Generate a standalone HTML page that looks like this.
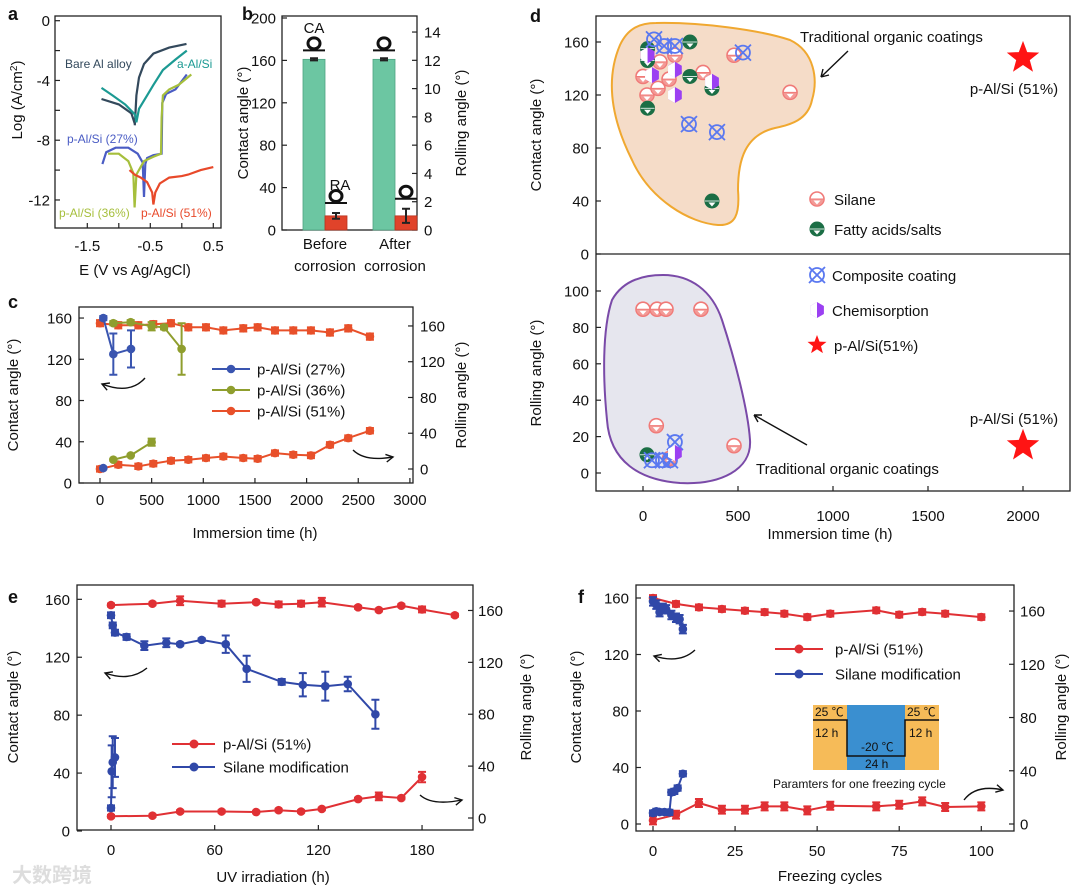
<!DOCTYPE html>
<html><head><meta charset="utf-8">
<style>
html,body{margin:0;padding:0;background:#fff;}
svg{display:block;font-family:"Liberation Sans","Noto Sans CJK SC",sans-serif;}
</style></head>
<body>
<svg id="fig" width="1080" height="893" viewBox="0 0 1080 893"></svg>
<script>
// ---------- DATA ----------
// panel a: polarization curves (E in V, log current)
const aBareE=[-1.275,-1.0,-0.8,-0.746,-0.746,-0.72,-0.68,-0.6,-0.45,-0.2,0.075];
const aBareL=[-5.24,-5.6,-6.2,-6.9,-7.0,-5.0,-3.8,-2.9,-2.2,-1.8,-1.55];
const aAE=[-1.275,-1.1,-0.9,-0.74,-0.72,-0.68,-0.55,-0.45,-0.3,-0.1,0.08];
const aAL=[-4.5,-5.0,-5.6,-6.3,-6.8,-5.9,-5.0,-4.3,-3.3,-2.6,-2.0];
const a27E=[-1.26,-1.2,-1.05,-0.85,-0.7,-0.62,-0.6,-0.58,-0.55,-0.45,-0.32,-0.31,-0.25,-0.1,0.08];
const a27L=[-9.6,-8.8,-8.5,-8.5,-8.9,-9.5,-11.8,-9.6,-9.2,-9.0,-8.9,-5.5,-4.9,-4.6,-3.6];
const a36E=[-1.17,-1.0,-0.85,-0.77,-0.75,-0.72,-0.6,-0.45,-0.33,-0.32,-0.3,-0.2,-0.05,0.15];
const a36L=[-8.9,-8.9,-9.4,-10.2,-12.5,-10.3,-9.4,-9.1,-8.9,-6.5,-5.0,-4.6,-4.3,-3.6];
const a51E=[-0.83,-0.75,-0.65,-0.55,-0.47,-0.45,-0.42,-0.35,-0.2,0.0,0.1,0.3,0.5];
const a51L=[-10.0,-10.3,-10.5,-10.8,-11.5,-12.3,-11.5,-10.9,-10.5,-10.4,-10.3,-10.0,-9.8];
// panel b
const bCats=["Before","After"];
const bCA=[161,161];
const bCAerr=[1,1];
const bRA=[1.0,1.0];
const bRAerr=[0.2,0.5];
// panel c
const c51x=[0,177,371,516,687,855,1026,1194,1387,1526,1694,1871,2042,2226,2403,2613];
const c51CA=[155,153,153,154,155,151,151,148,150,151,148,148,148,146,150,142];
const c51RA=[0,4.8,3,6,9.3,10.4,12.3,14,12.3,11.5,17.8,16,15.2,27,34.6,42.8];
const c27x=[32,129,300];
const c27CA=[160,125,130];
const c27CAerr=[2,20,18];
const c27RAx=[32];
const c27RA=[1];
const c36x=[129,297,500,620,790];
const c36CA=[155,156,152,151,130];
const c36CAerr=[2,2,4,2,25];
const c36RAx=[129,297,500];
const c36RA=[10.4,15.2,30];
// panel d
const dSilX=[0,21,79,89,168,316,479,774,137];
const dSilCA=[134,120,125,145,150,137,150,122,132];
const dFatX=[24,24,24,247,247,363,363];
const dFatCA=[155,146,110,160,134,125,40];
const dCompX=[58,111,168,526,242,389];
const dCompCA=[162,157,157,152,98,92];
const dChemX=[24,47,168,168,363];
const dChemCA=[150,135,139,120,130];
const dSilRAx=[0,74,121,305,70,479,140];
const dSilRA=[90,90,90,90,26,15,8];
const dFatRAx=[21];
const dFatRA=[10];
const dCompRAx=[47,105,142,168];
const dCompRA=[7,7,7,17];
const dChemRAx=[168];
const dChemRA=[11];
const dStarX=[2000];
const dStarCA=[148];
const dStarRA=[15];
// panel e
const eRx=[0,24,40,64,84,97,110,122,143,155,168,180,199];
const eRCA=[156,157,159,157,158,156.5,157,158,154.5,152.6,155.6,153,149];
const eRCAerr=[1,1,3,2,1,2,2,3,1,1,1,2,1];
const eRRAx=[0,24,40,64,84,97,110,122,143,155,168,180];
const eRRA=[1.3,1.8,5,5,4.6,6,5,7,14.6,16.7,15.4,31.6];
const eRRAerr=[1,1,1,1,1,1,1,1,1,3,1,4];
const eBx=[0,1,2.3,9,19.3,32,40,52.5,66.4,78.5,98.8,111,124,137,153];
const eBCA=[149,142,137,134,128,130,129,132,129,112,103,101,100,101.5,80.6];
const eBCAerr=[2,2,2,2,3,3,1,1,6,9,2,8,10,5,10];
const eBRAx=[0,0.4,1,2.3];
const eBRA=[7.7,36,43,46.7];
const eBRAerr=[2,20,20,15];
// panel f
const fRx=[0,7,14,21,28,34,40,47,54,68,75,82,89,100];
const fRCA=[160,155.8,153.4,152.2,151,150,148.9,146.5,148.9,151.3,148.2,150.1,148.9,146.5];
const fRRA=[2.75,7,15.75,10.75,10.75,13.25,13.25,10.25,13.75,13.25,14.5,17,12.75,13.25];
const fBx=[0,1,2,3,4,5.6,7,8.1,9.1];
const fBCA=[157.6,155.3,150,153,152,148,146,145,138];
const fBRAx=[0,1,2,3.5,5,5.6,6.5,7.5,9.1];
const fBRA=[8.25,9.5,9,9,8.75,23.75,24.5,27,37.75];

// ---------- HELPERS ----------
const NS='http://www.w3.org/2000/svg';
const svg=document.getElementById('fig');
function mk(parent,tag,attrs,name){
  const el=document.createElementNS(NS,tag);
  for(const k in attrs) el.setAttribute(k,attrs[k]);
  
  
  parent.appendChild(el);
  return el;
}
function txt(parent,x,y,s,size,anchor,name,extra){
  const a={x:x,y:y,'font-size':size,'text-anchor':anchor||'start',fill:'#111'};
  if(extra) for(const k in extra) a[k]=extra[k];
  const t=mk(parent,'text',a,name);
  t.textContent=s;
  return t;
}
function group(name){return mk(svg,'g',{},name);}
function box(g,x0,x1,y0,y1,name){mk(g,'rect',{x:x0,y:y0,width:x1-x0,height:y1-y0,fill:'none',stroke:'#222','stroke-width':1.3},name);}
function yTicks(g,vals,Y,x,side,labelX,name){
  vals.forEach(v=>{
    const yy=Y(v);
    const d=side==='left'?5:-5;
    mk(g,'line',{x1:x,y1:yy,x2:x+d,y2:yy,stroke:'#222','stroke-width':1.2},name+'-tick');
    txt(g,labelX,yy+5.5,String(v),15,side==='left'?'end':'start',name+'-label');
  });
}
function xTicks(g,vals,X,y,labelY,name,labels){
  vals.forEach((v,i)=>{
    const xx=X(v);
    mk(g,'line',{x1:xx,y1:y,x2:xx,y2:y-5,stroke:'#222','stroke-width':1.2},name+'-tick');
    if(!labels||labels[i]!==null) txt(g,xx,labelY,labels?labels[i]:String(v),15,'middle',name+'-label');
  });
}
function rotTitle(g,x,y,s,name){txt(g,x,y,s,15,'middle',name,{transform:'rotate(-90 '+x+' '+y+')'});}
function line(g,xs,ys,X,Y,color,name,w){
  const pts=xs.map((v,i)=>X(v).toFixed(1)+','+Y(ys[i]).toFixed(1)).join(' ');
  mk(g,'polyline',{points:pts,fill:'none',stroke:color,'stroke-width':w||2},name);
}
function errs(g,xs,ys,es,X,Y,color,name){
  xs.forEach((v,i)=>{
    if(!es||!es[i]) return;
    const xx=X(v),y1=Y(ys[i]-es[i]),y2=Y(ys[i]+es[i]);
    mk(g,'path',{d:`M${xx},${y1}V${y2}M${xx-4},${y1}H${xx+4}M${xx-4},${y2}H${xx+4}`,stroke:color,'stroke-width':2,fill:'none'},name);
  });
}
function dots(g,xs,ys,X,Y,color,name,r){
  xs.forEach((v,i)=>{mk(g,'circle',{cx:X(v),cy:Y(ys[i]),r:r||4.3,fill:color},name);});
}
function curvedArrow(g,x1,y1,cx,cy,x2,y2,name){
  mk(g,'path',{d:`M${x1},${y1}Q${cx},${cy} ${x2},${y2}`,fill:'none',stroke:'#111','stroke-width':1.4},name);
  const ang=Math.atan2(y2-cy,x2-cx);
  const l=8;
  const p1=[x2-l*Math.cos(ang-0.5),y2-l*Math.sin(ang-0.5)];
  const p2=[x2-l*Math.cos(ang+0.5),y2-l*Math.sin(ang+0.5)];
  mk(g,'path',{d:`M${p1[0]},${p1[1]}L${x2},${y2}L${p2[0]},${p2[1]}`,fill:'none',stroke:'#111','stroke-width':1.4},name+'-head');
}
function panelLabel(x,y,s){txt(svg,x,y,s,18,'start','panel-label-'+s,{'font-weight':'bold'});}

// ---------- PANEL A ----------
(function(){
  const g=group('panel-a');
  const X=E=>87.3+(E+1.5)*63, Y=L=>20.7-L*14.94;
  box(g,55,221,16,228,'plot-frame-a');
  [-1.5,-1,-0.5,0,0.5].forEach(v=>{mk(g,'line',{x1:X(v),y1:228,x2:X(v),y2:223,stroke:'#222','stroke-width':1.2},'x-tick-a');});
  [[-1.5,'-1.5'],[-0.5,'-0.5'],[0.5,'0.5']].forEach(p=>txt(g,X(p[0]),251,p[1],15,'middle','x-tick-label-a'));
  [0,-2,-4,-6,-8,-10,-12].forEach(v=>{mk(g,'line',{x1:55,y1:Y(v),x2:60,y2:Y(v),stroke:'#222','stroke-width':1.2},'y-tick-a');});
  [0,-4,-8,-12].forEach(v=>txt(g,50,Y(v)+5.5,String(v),15,'end','y-tick-label-a'));
  txt(g,135,275,'E (V vs Ag/AgCl)',15,'middle','x-axis-title-a');
  const t=txt(g,22,100,'Log (A/cm',15,'middle','y-axis-title-a',{transform:'rotate(-90 22 100)'});
  const s1=document.createElementNS(NS,'tspan');s1.setAttribute('font-size','10');s1.setAttribute('dy','-5');s1.textContent='2';t.appendChild(s1);
  const s2=document.createElementNS(NS,'tspan');s2.setAttribute('dy','5');s2.textContent=')';t.appendChild(s2);
  line(g,aBareE,aBareL,X,Y,'#33495c','curve-bare-al',2.2);
  line(g,aAE,aAL,X,Y,'#1c9a93','curve-a-alsi',2.2);
  line(g,a27E,a27L,X,Y,'#4a5cc4','curve-p-alsi-27',2.2);
  line(g,a36E,a36L,X,Y,'#a6bf3c','curve-p-alsi-36',2.2);
  line(g,a51E,a51L,X,Y,'#e8492a','curve-p-alsi-51',2.2);
  txt(g,65,68,'Bare Al alloy',12,'start','label-bare-al',{fill:'#33495c'});
  txt(g,177,68,'a-Al/Si',12,'start','label-a-alsi',{fill:'#1c9a93'});
  txt(g,67,143,'p-Al/Si (27%)',12,'start','label-27',{fill:'#4a5cc4'});
  txt(g,59,217,'p-Al/Si (36%)',12,'start','label-36',{fill:'#a6bf3c'});
  txt(g,141,217,'p-Al/Si (51%)',12,'start','label-51',{fill:'#e8492a'});
})();
panelLabel(8,20,'a');

// ---------- PANEL B ----------
(function(){
  const g=group('panel-b');
  const Y=v=>230-v*1.06, YR=v=>230-v*14.14;
  const centers=[325,395];
  box(g,282,417,16,230,'plot-frame-b');
  yTicks(g,[0,40,80,120,160,200],Y,282,'left',276,'y-left-b');
  yTicks(g,[0,2,4,6,8,10,12,14],YR,417,'right',424,'y-right-b');
  bCats.forEach((c,i)=>{
    const cx=centers[i];
    mk(g,'rect',{x:cx-22,y:Y(bCA[i]),width:22,height:230-Y(bCA[i]),fill:'#6cc6a2',stroke:'#4fa482','stroke-width':0.8},'bar-ca-'+c.toLowerCase());
    mk(g,'rect',{x:cx,y:YR(bRA[i]),width:22,height:230-YR(bRA[i]),fill:'#e0432a',stroke:'#b8331e','stroke-width':0.8},'bar-ra-'+c.toLowerCase());
    errs(g,[cx-11],[bCA[i]],[bCAerr[i]],v=>v,Y,'#222','errorbar-ca');
    errs(g,[cx+11],[bRA[i]],[bRAerr[i]],v=>v,YR,'#222','errorbar-ra');
    // droplets
    [[cx-11,Y(bCA[i])-13],[cx+11,YR(bRA[i]+bRAerr[i])-14]].forEach(p=>{
      mk(g,'ellipse',{cx:p[0],cy:p[1]-3,rx:6,ry:5.5,fill:'none',stroke:'#111','stroke-width':3},'droplet-icon');
      mk(g,'line',{x1:p[0]-11,y1:p[1]+4,x2:p[0]+11,y2:p[1]+4,stroke:'#111','stroke-width':2},'droplet-surface');
    });
    txt(g,cx,249,c,15,'middle','x-label-b');
    txt(g,cx,271,'corrosion',15,'middle','x-label-b');
  });
  txt(g,314,33,'CA',15,'middle','label-ca');
  txt(g,340,190,'RA',15,'middle','label-ra');
  rotTitle(g,248,123,'Contact angle (°)','y-axis-title-b-left');
  rotTitle(g,466,123,'Rolling angle (°)','y-axis-title-b-right');
})();
panelLabel(242,20,'b');

// ---------- PANEL C ----------
(function(){
  const g=group('panel-c');
  const X=h=>100+h*0.1033, Y=v=>483-v*1.031, YR=v=>469-v*0.894;
  box(g,79,413,307,483,'plot-frame-c');
  yTicks(g,[0,40,80,120,160],Y,79,'left',72,'y-left-c');
  yTicks(g,[0,40,80,120,160],YR,413,'right',420,'y-right-c');
  xTicks(g,[0,500,1000,1500,2000,2500,3000],X,483,505,'x-c');
  txt(g,255,538,'Immersion time   (h)',15,'middle','x-axis-title-c');
  rotTitle(g,18,395,'Contact angle (°)','y-axis-title-c-left');
  rotTitle(g,466,395,'Rolling angle (°)','y-axis-title-c-right');
  const O='#e8502a',G='#8f9e2e',B='#3a55b0';
  line(g,c51x,c51CA,X,Y,O,'series-51-ca');errs(g,c51x,c51CA,c51x.map(()=>3),X,Y,O,'errorbar-51-ca');dots(g,c51x,c51CA,X,Y,O,'point-51-ca');
  line(g,c51x,c51RA,X,YR,O,'series-51-ra');errs(g,c51x,c51RA,c51x.map(()=>3),X,YR,O,'errorbar-51-ra');dots(g,c51x,c51RA,X,YR,O,'point-51-ra');
  line(g,c36x,c36CA,X,Y,G,'series-36-ca');errs(g,c36x,c36CA,c36CAerr,X,Y,G,'errorbar-36-ca');dots(g,c36x,c36CA,X,Y,G,'point-36-ca');
  line(g,c36RAx,c36RA,X,YR,G,'series-36-ra');errs(g,c36RAx,c36RA,[1,1,4],X,YR,G,'errorbar-36-ra');dots(g,c36RAx,c36RA,X,YR,G,'point-36-ra');
  line(g,c27x,c27CA,X,Y,B,'series-27-ca');errs(g,c27x,c27CA,c27CAerr,X,Y,B,'errorbar-27-ca');dots(g,c27x,c27CA,X,Y,B,'point-27-ca');
  dots(g,c27RAx,c27RA,X,YR,B,'point-27-ra');
  const leg=[['p-Al/Si (27%)',B],['p-Al/Si (36%)',G],['p-Al/Si (51%)',O]];
  leg.forEach((l,i)=>{
    const y=369+i*21;
    mk(g,'line',{x1:212,y1:y,x2:250,y2:y,stroke:l[1],'stroke-width':2},'legend-line-c');
    mk(g,'circle',{cx:231,cy:y,r:4.3,fill:l[1]},'legend-marker-c');
    txt(g,257,y+5.5,l[0],15,'start','legend-text-c');
  });
  curvedArrow(g,145,378,130,395,102,384,'arrow-left-c');
  curvedArrow(g,353,450,365,462,393,457,'arrow-right-c');
})();
panelLabel(8,308,'c');

// ---------- PANEL D ----------
function silaneMk(g,x,y,name){
  mk(g,'circle',{cx:x,cy:y,r:7,fill:'#fff',stroke:'#f07a78','stroke-width':1.6},name);
  mk(g,'path',{d:`M${x-7},${y}A7,7 0 0 0 ${x+7},${y}Z`,fill:'#f39a96',stroke:'#f07a78','stroke-width':1},name+'-half');
  mk(g,'path',{d:`M${x-3.5},${y+1.5}L${x+3.5},${y+1.5}L${x},${y+5.5}Z`,fill:'#fff'},name+'-tri');
}
function fattyMk(g,x,y,name){
  mk(g,'circle',{cx:x,cy:y,r:7.5,fill:'#1b6e45'},name);
  mk(g,'path',{d:`M${x-3.5},${y+1.5}L${x+3.5},${y+1.5}L${x},${y+5.5}Z`,fill:'#fff'},name+'-tri');
  mk(g,'line',{x1:x-7,y1:y,x2:x+7,y2:y,stroke:'#fff','stroke-width':0.8},name+'-line');
}
function compMk(g,x,y,name){
  mk(g,'circle',{cx:x,cy:y,r:7,fill:'none',stroke:'#5a78f0','stroke-width':1.8},name);
  mk(g,'path',{d:`M${x-8},${y-8}L${x+8},${y+8}M${x+8},${y-8}L${x-8},${y+8}`,stroke:'#5a78f0','stroke-width':1.8},name+'-x');
}
function chemMk(g,x,y,name){
  const pts=[];for(let k=0;k<6;k++){const a=Math.PI/6+k*Math.PI/3;pts.push((x+8*Math.cos(a)).toFixed(1)+','+(y+8*Math.sin(a)).toFixed(1));}
  mk(g,'polygon',{points:pts.join(' '),fill:'#9b40f2'},name);
  mk(g,'path',{d:`M${x},${y-8}L${x-6.9},${y-4}L${x-6.9},${y+4}L${x},${y+8}Z`,fill:'#fff'},name+'-half');
}
function starMk(g,x,y,r,name){
  const pts=[];for(let k=0;k<10;k++){const a=-Math.PI/2+k*Math.PI/5;const rr=k%2?r*0.42:r;pts.push((x+rr*Math.cos(a)).toFixed(1)+','+(y+rr*Math.sin(a)).toFixed(1));}
  mk(g,'polygon',{points:pts.join(' '),fill:'#ff1414'},name);
}
(function(){
  const g=group('panel-d');
  const X=h=>643+h*0.19, YT=v=>254-v*1.325, YB=v=>473-v*1.82;
  mk(g,'path',{d:'M656,23 C700,22 760,30 790,40 C815,52 818,80 812,100 C808,120 790,125 775,128 C745,135 738,160 738,190 C740,215 735,226 718,225 C690,223 650,200 632,160 C612,120 605,80 620,45 C628,28 640,23 656,23Z',fill:'#f5dcc8',stroke:'#f0a830','stroke-width':2},'blob-traditional-ca');
  mk(g,'path',{d:'M663,275 C690,275 712,290 722,320 C735,360 748,410 750,440 C752,470 720,485 680,483 C640,480 610,462 607,420 C603,380 602,330 612,300 C622,282 640,275 663,275Z',fill:'#e6e6ee',stroke:'#7a4aa8','stroke-width':2},'blob-traditional-ra');
  box(g,596,1070,16,491,'plot-frame-d');
  mk(g,'line',{x1:596,y1:254,x2:1070,y2:254,stroke:'#222','stroke-width':1.3},'divider-d');
  yTicks(g,[0,40,80,120,160],YT,596,'left',589,'y-top-d');
  yTicks(g,[0,20,40,60,80,100],YB,596,'left',589,'y-bottom-d');
  xTicks(g,[0,500,1000,1500,2000],X,491,521,'x-d');
  txt(g,830,539,'Immersion time (h)',15,'middle','x-axis-title-d');
  rotTitle(g,541,135,'Contact angle (°)','y-axis-title-d-top');
  rotTitle(g,541,373,'Rolling angle (°)','y-axis-title-d-bottom');
  dSilX.forEach((v,i)=>silaneMk(g,X(v),YT(dSilCA[i]),'point-silane-ca'));
  dFatX.forEach((v,i)=>fattyMk(g,X(v),YT(dFatCA[i]),'point-fatty-ca'));
  dCompX.forEach((v,i)=>compMk(g,X(v),YT(dCompCA[i]),'point-composite-ca'));
  dChemX.forEach((v,i)=>chemMk(g,X(v),YT(dChemCA[i]),'point-chemisorption-ca'));
  dSilRAx.forEach((v,i)=>silaneMk(g,X(v),YB(dSilRA[i]),'point-silane-ra'));
  dFatRAx.forEach((v,i)=>fattyMk(g,X(v),YB(dFatRA[i]),'point-fatty-ra'));
  dCompRAx.forEach((v,i)=>compMk(g,X(v),YB(dCompRA[i]),'point-composite-ra'));
  dChemRAx.forEach((v,i)=>chemMk(g,X(v),YB(dChemRA[i]),'point-chemisorption-ra'));
  starMk(g,X(dStarX[0]),YT(dStarCA[0]),17,'star-p-alsi-ca');
  starMk(g,X(dStarX[0]),YB(dStarRA[0]),17,'star-p-alsi-ra');
  txt(g,1014,94,'p-Al/Si (51%)',15,'middle','label-star-ca');
  txt(g,1014,424,'p-Al/Si (51%)',15,'middle','label-star-ra');
  txt(g,800,42,'Traditional organic coatings',15,'start','label-traditional-top');
  txt(g,756,474,'Traditional organic coatings',15,'start','label-traditional-bottom');
  mk(g,'path',{d:'M848,51L821,77M821,77L823,69M821,77L829,75',stroke:'#111','stroke-width':1.4,fill:'none'},'arrow-traditional-top');
  mk(g,'path',{d:'M807,445L754,415M754,415L762,415M754,415L758,422',stroke:'#111','stroke-width':1.4,fill:'none'},'arrow-traditional-bottom');
  silaneMk(g,817,199,'legend-silane');txt(g,834,205,'Silane',15,'start','legend-text-silane');
  fattyMk(g,817,229,'legend-fatty');txt(g,834,235,'Fatty acids/salts',15,'start','legend-text-fatty');
  compMk(g,817,275,'legend-composite');txt(g,832,281,'Composite coating',15,'start','legend-text-composite');
  chemMk(g,817,310,'legend-chemisorption');txt(g,832,316,'Chemisorption',15,'start','legend-text-chemisorption');
  starMk(g,817,345,10,'legend-star');txt(g,834,351,'p-Al/Si(51%)',15,'start','legend-text-star');
})();
panelLabel(530,22,'d');

// ---------- PANEL E ----------
(function(){
  const g=group('panel-e');
  const X=h=>111+h*1.728, Y=v=>831-v*1.448, YR=v=>818-v*1.297;
  box(g,77,473,585,830,'plot-frame-e');
  yTicks(g,[0,40,80,120,160],Y,77,'left',70,'y-left-e');
  yTicks(g,[0,40,80,120,160],YR,473,'right',478,'y-right-e');
  xTicks(g,[0,60,120,180],X,830,855,'x-e');
  txt(g,273,882,'UV irradiation  (h)',15,'middle','x-axis-title-e');
  rotTitle(g,18,707,'Contact angle (°)','y-axis-title-e-left');
  rotTitle(g,531,707,'Rolling angle (°)','y-axis-title-e-right');
  const R='#e03034',B='#3048a8';
  line(g,eRx,eRCA,X,Y,R,'series-pal-ca');errs(g,eRx,eRCA,eRCAerr,X,Y,R,'errorbar-pal-ca');dots(g,eRx,eRCA,X,Y,R,'point-pal-ca');
  line(g,eRRAx,eRRA,X,YR,R,'series-pal-ra');errs(g,eRRAx,eRRA,eRRAerr,X,YR,R,'errorbar-pal-ra');dots(g,eRRAx,eRRA,X,YR,R,'point-pal-ra');
  line(g,eBx,eBCA,X,Y,B,'series-silane-ca');errs(g,eBx,eBCA,eBCAerr,X,Y,B,'errorbar-silane-ca');dots(g,eBx,eBCA,X,Y,B,'point-silane-ca');
  line(g,eBRAx,eBRA,X,YR,B,'series-silane-ra');errs(g,eBRAx,eBRA,eBRAerr,X,YR,B,'errorbar-silane-ra');dots(g,eBRAx,eBRA,X,YR,B,'point-silane-ra');
  [['p-Al/Si (51%)',R],['Silane modification',B]].forEach((l,i)=>{
    const y=744+i*23;
    mk(g,'line',{x1:172,y1:y,x2:215,y2:y,stroke:l[1],'stroke-width':2},'legend-line-e');
    mk(g,'circle',{cx:194,cy:y,r:4.5,fill:l[1]},'legend-marker-e');
    txt(g,223,y+5.5,l[0],15,'start','legend-text-e');
  });
  curvedArrow(g,147,668,130,682,105,673,'arrow-left-e');
  curvedArrow(g,420,795,432,806,462,800,'arrow-right-e');
  txt(g,12,882,'大数跨境',20,'start','watermark',{fill:'#ddd','font-weight':'bold'});
})();
panelLabel(8,603,'e');

// ---------- PANEL F ----------
(function(){
  const g=group('panel-f');
  const X=c=>653+c*3.283, Y=v=>824-v*1.4125, YR=v=>824-v*1.331;
  box(g,636,1014,585,831,'plot-frame-f');
  yTicks(g,[0,40,80,120,160],Y,636,'left',629,'y-left-f');
  yTicks(g,[0,40,80,120,160],YR,1014,'right',1020,'y-right-f');
  xTicks(g,[0,25,50,75,100],X,831,856,'x-f');
  txt(g,830,881,'Freezing cycles',15,'middle','x-axis-title-f');
  rotTitle(g,581,707,'Contact angle (°)','y-axis-title-f-left');
  rotTitle(g,1066,707,'Rolling angle (°)','y-axis-title-f-right');
  const R='#e03034',B='#3048a8';
  line(g,fRx,fRCA,X,Y,R,'series-pal-ca');errs(g,fRx,fRCA,fRx.map(()=>2),X,Y,R,'errorbar-pal-ca');dots(g,fRx,fRCA,X,Y,R,'point-pal-ca');
  line(g,fRx,fRRA,X,YR,R,'series-pal-ra');errs(g,fRx,fRRA,fRx.map(()=>3),X,YR,R,'errorbar-pal-ra');dots(g,fRx,fRRA,X,YR,R,'point-pal-ra');
  line(g,fBx,fBCA,X,Y,B,'series-silane-ca');errs(g,fBx,fBCA,fBx.map(()=>3),X,Y,B,'errorbar-silane-ca');dots(g,fBx,fBCA,X,Y,B,'point-silane-ca');
  line(g,fBRAx,fBRA,X,YR,B,'series-silane-ra');errs(g,fBRAx,fBRA,fBRAx.map(()=>2),X,YR,B,'errorbar-silane-ra');dots(g,fBRAx,fBRA,X,YR,B,'point-silane-ra');
  [['p-Al/Si (51%)',R],['Silane modification',B]].forEach((l,i)=>{
    const y=649+i*25;
    mk(g,'line',{x1:775,y1:y,x2:823,y2:y,stroke:l[1],'stroke-width':2},'legend-line-f');
    mk(g,'circle',{cx:799,cy:y,r:4.5,fill:l[1]},'legend-marker-f');
    txt(g,835,y+5.5,l[0],15,'start','legend-text-f');
  });
  curvedArrow(g,695,650,680,664,654,656,'arrow-left-f');
  curvedArrow(g,964,800,976,784,1003,790,'arrow-right-f');
  // inset
  mk(g,'rect',{x:813,y:705,width:126,height:65,fill:'#f6bb58'},'inset-background');
  mk(g,'rect',{x:847,y:705,width:58,height:65,fill:'#3a8fd0'},'inset-freezing-block');
  mk(g,'path',{d:'M813,720H847V756H905V720H939',fill:'none',stroke:'#111','stroke-width':1.5},'inset-temperature-profile');
  txt(g,815,716,'25 ℃',12,'start','inset-text');
  txt(g,815,737,'12 h',12,'start','inset-text');
  txt(g,861,751,'-20 ℃',12,'start','inset-text');
  txt(g,865,768,'24 h',12,'start','inset-text');
  txt(g,907,716,'25 ℃',12,'start','inset-text');
  txt(g,909,737,'12 h',12,'start','inset-text');
  txt(g,773,788,'Paramters for one freezing cycle',12,'start','inset-caption');
})();
panelLabel(578,603,'f');
</script>
</body></html>
